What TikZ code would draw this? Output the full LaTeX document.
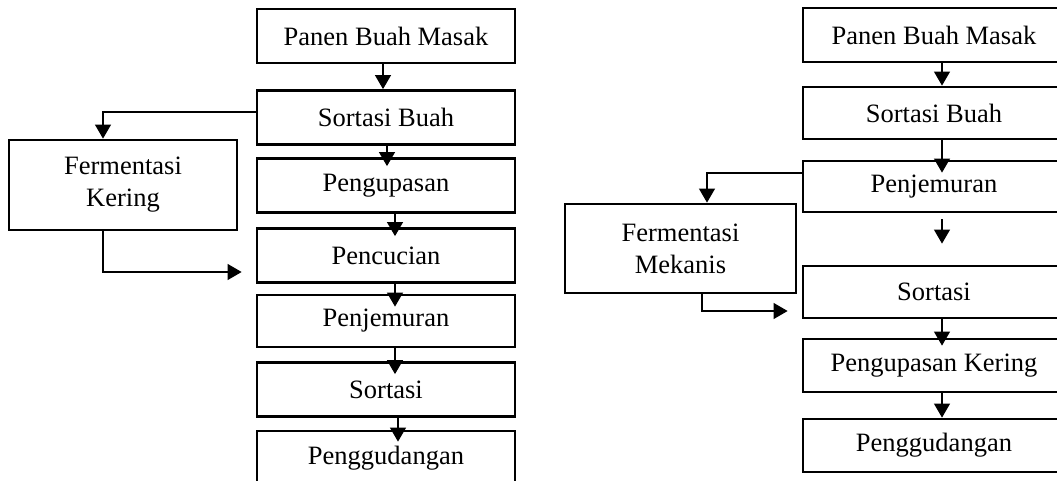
\documentclass[tikz,border=0pt]{standalone}
\usepackage{fontspec}
\setmainfont{Liberation Serif}
\usetikzlibrary{arrows.meta}
\begin{document}
\begin{tikzpicture}[x=1pt,y=-1pt,
  box/.style={draw, line width=2.8pt, minimum height=54pt, inner sep=0pt,
    font=\fontsize{26.5}{32}\selectfont, align=center},
  conn/.style={line width=1.1pt, -{Triangle[length=14pt,width=16pt]}}]
\useasboundingbox (0,0) rectangle (1057,481);
\clip (0,0) rectangle (1057,481);
% left flow
\node[box, minimum width=258pt] (LA) at (386,36) {Panen Buah Masak};
\node[box, minimum width=258pt] (LB) at (386,117.5) {Sortasi Buah};
\node[box, minimum width=258pt] (LC) at (386,185.5) {Pengupasan};
\node[box, minimum width=258pt] (LD) at (386,255.5) {Pencucian};
\node[box, minimum width=258pt, minimum height=52pt] (LE) at (386,321) {Penjemuran};
\node[box, minimum width=258pt] (LF) at (386,389.5) {Sortasi};
\node[box, minimum width=258pt] (LG) at (386,458) {Penggudangan};
\node[box, minimum width=228pt, minimum height=90pt] (LK) at (123,185) {Fermentasi\\Kering};
\draw[conn] ([xshift=-3pt]LA.south) -- ([xshift=-3pt]LB.north);
\draw[conn] ([xshift=1pt,yshift=2pt]LB.south) -- ([xshift=1pt,yshift=-9pt]LC.north);
\draw[conn] ([xshift=9pt]LC.south) -- ([xshift=9pt,yshift=-9pt]LD.north);
\draw[conn] ([xshift=9pt,yshift=2pt]LD.south) -- ([xshift=9pt,yshift=-13pt]LE.north);
\draw[conn] ([xshift=9pt]LE.south) -- ([xshift=9pt,yshift=-13pt]LF.north);
\draw[conn] ([xshift=12pt]LF.south) -- ([xshift=12pt,yshift=-12pt]LG.north);
\draw[conn] ([yshift=5.5pt]LB.west) -| ([xshift=-20pt]LK.north);
\draw[conn] ([xshift=-20pt]LK.south) |- ([xshift=-14pt,yshift=-16.5pt]LD.west);
% right flow
\node[box, minimum width=262pt] (RA) at (934,35) {Panen Buah Masak};
\node[box, minimum width=262pt, minimum height=52pt] (RB) at (934,113) {Sortasi Buah};
\node[box, minimum width=262pt, minimum height=51pt] (RC) at (934,186.5) {Penjemuran};
\node[box, minimum width=262pt, minimum height=52pt] (RD) at (934,292) {Sortasi};
\node[box, minimum width=262pt, minimum height=53pt] (RE) at (934,365.5) {Pengupasan Kering};
\node[box, minimum width=262pt, minimum height=53pt] (RF) at (934,445.5) {Penggudangan};
\node[box, minimum width=231pt, minimum height=89pt] (RK) at (680.5,248.5) {Fermentasi\\Mekanis};
\draw[conn] ([xshift=8pt]RA.south) -- ([xshift=8pt]RB.north);
\draw[conn] ([xshift=8pt]RB.south) -- ([xshift=8pt,yshift=-13pt]RC.north);
\draw[conn] ([xshift=8pt,yshift=-6pt]RC.south) -- ([xshift=8pt,yshift=21pt]RD.north);
\draw[conn] ([xshift=8pt]RD.south) -- ([xshift=8pt,yshift=-8pt]RE.north);
\draw[conn] ([xshift=8pt]RE.south) -- ([xshift=8pt]RF.north);
\draw[conn] ([yshift=13.5pt]RC.west) -| ([xshift=26.5pt]RK.north);
\draw[conn] ([xshift=21.5pt]RK.south) |- ([xshift=-14pt,yshift=-19pt]RD.west);
\end{tikzpicture}
\end{document}
